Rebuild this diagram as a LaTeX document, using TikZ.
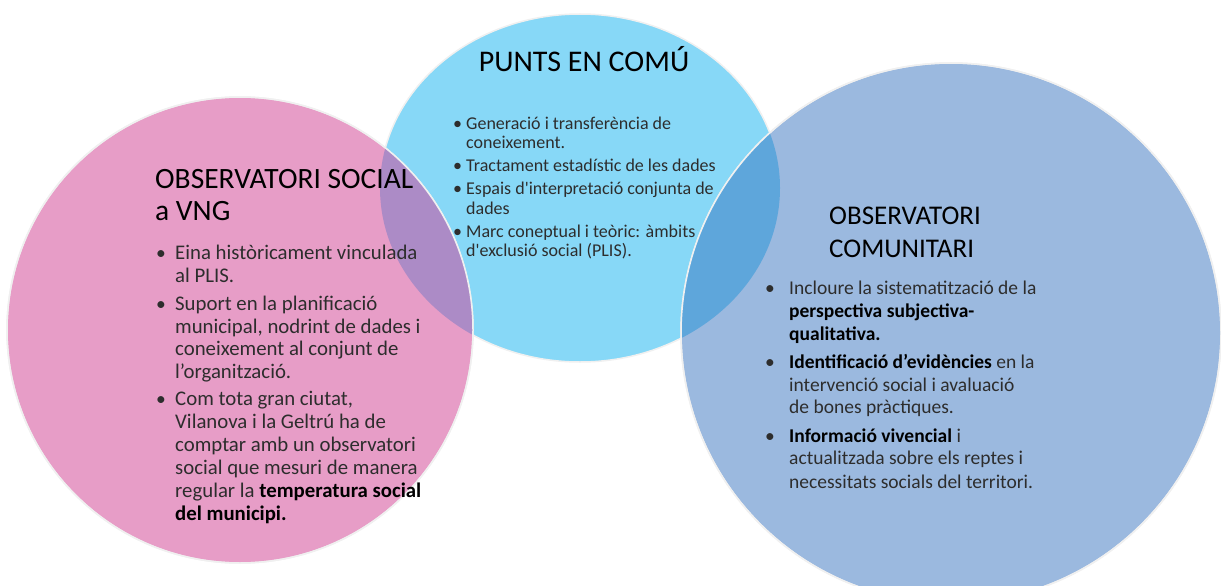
\documentclass[tikz,border=0pt]{standalone}
\usepackage{fontspec}
\setmainfont{Carlito}[Ligatures=TeXOff]
\usepackage{tikz}
\definecolor{rosepink}{RGB}{231,157,199}
\definecolor{skyblue}{RGB}{135,216,247}
\definecolor{steelblue}{RGB}{155,185,223}
\definecolor{lilac}{RGB}{172,139,198}
\definecolor{midblue}{RGB}{94,166,219}
\definecolor{textgray}{RGB}{45,45,45}

\begin{document}
\begin{tikzpicture}[line cap=round,line join=round,x=1pt,y=-1pt,
  rim/.style={draw=white!88!gray,line width=1.5pt},
  head/.style={anchor=base west,inner sep=0pt,text=black,font=\fontsize{27}{32}\selectfont},
  body/.style={anchor=base west,inner sep=0pt,text=textgray,font=\fontsize{19.5}{23}\selectfont},
  small/.style={anchor=base west,inner sep=0pt,text=textgray,font=\fontsize{18}{19.5}\selectfont}]
\fill[white] (0,0) rectangle (1221,586);
\clip (0,0) rectangle (1221,586);
% the three circles
\filldraw[fill=skyblue,rim] (580,188) ellipse [x radius=200,y radius=174];
\filldraw[fill=rosepink,rim] (240,330) circle [radius=233];
\filldraw[fill=steelblue,rim] (951,333) circle [radius=270];
% overlaps
\begin{scope}
\clip (580,188) ellipse [x radius=200,y radius=174];
\fill[lilac] (240,330) circle [radius=233];
\fill[midblue] (951,333) circle [radius=270];
\end{scope}
\draw[rim] (240,330) circle [radius=233];
\draw[rim] (951,333) circle [radius=270];

% left circle
\foreach \y/\t in {188/OBSERVATORI SOCIAL,220/a VNG}
  \node[head,font=\fontsize{29.5}{32}\selectfont] (lt\y) at (155,\y) {\t};
\foreach \y in {259,310,405}
  \node[body] (lb\y) at (156,\y) {•};
\foreach \y/\t in {259/Eina històricament vinculada,282/al PLIS.,
  310/Suport en la planificació,333/{municipal, nodrint de dades i},
  355/coneixement al conjunt de,378/l’organització.,
  405/{Com tota gran ciutat,},428/Vilanova i la Geltrú ha de,
  451/comptar amb un observatori,474/social que mesuri de manera,
  497/regular la {\color{black}\bfseries temperatura social},
  520/{\color{black}\bfseries del municipi.}}
  \node[body,font=\fontsize{20.8}{23}\selectfont] (ll\y) at (175,\y) {\t};

% top circle
\node[head,anchor=base,font=\fontsize{30}{36}\selectfont] (punts) at (584,72) {PUNTS EN COMÚ};
\foreach \y in {129,171,194,237}
  \node[small] (tb\y) at (453,\y) {•};
\foreach \y/\t in {129/Generació i transferència de,148/coneixement.,
  171/Tractament estadístic de les dades,
  194/Espais d'interpretació conjunta de,214/dades,
  237/Marc coneptual i teòric: àmbits,256/d'exclusió social (PLIS).}
  \node[small] (tl\y) at (466,\y) {\t};

% right circle
\foreach \y/\t in {224/OBSERVATORI,257/COMUNITARI}
  \node[head] (rt\y) at (829,\y) {\t};
\foreach \y in {294,368,442}
  \node[body] (rb\y) at (765,\y) {•};
\foreach \y/\t in {294/Incloure la sistematització de la,
  317/{\color{black}\bfseries perspectiva subjectiva-},
  340/{\color{black}\bfseries qualitativa.},
  368/{\color{black}\bfseries Identificació d’evidències} en la,
  391/intervenció social i avaluació,413/de bones pràctiques.,
  442/{\color{black}\bfseries Informació vivencial} i,
  464/actualitzada sobre els reptes i,488/necessitats socials del territori.}
  \node[body] (rl\y) at (789,\y) {\t};
\end{tikzpicture}
\end{document}
